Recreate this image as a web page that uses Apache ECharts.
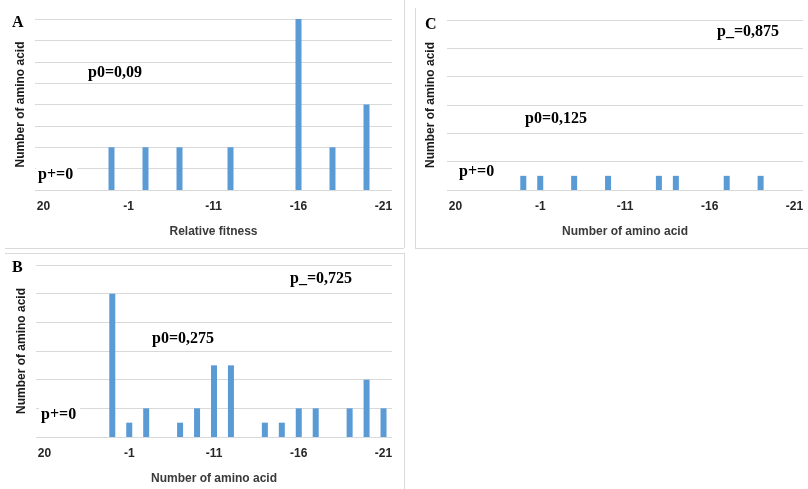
<!DOCTYPE html>
<html>
<head>
<meta charset="utf-8">
<script src="https://cdn.jsdelivr.net/npm/echarts@6/dist/echarts.min.js"></script>
<style>
  html, body { margin: 0; padding: 0; background: #fff; }
  #main { width: 808px; height: 489px; }
</style>
</head>
<body>
<div id="main"></div>
<script>
// categories, only every 5th one gets a label on the chart
var xLabels = ['20','15','10','5','0','-1','-3','-5','-7','-9','-11','-12','-13','-14','-15','-16','-17','-18','-19','-20','-21'];
// counts per category
var countsA = [0,0,0,0,1,0,1,0,1,0,0,1,0,0,0,4,0,1,0,2,0];
var countsB = [0,0,0,0,10,1,2,0,1,2,5,5,0,1,1,2,2,0,2,4,2];
var countsC = [0,0,0,0,1,1,0,1,0,1,0,0,1,1,0,0,1,0,1,0,0];
var xNames = ['Relative fitness', 'Number of amino acid', 'Number of amino acid'];
var yName = 'Number of amino acid';

var grey = '#d9d9d9';
var serif = 'bold 16px "Liberation Serif"';

function xAxis(i) {
    return {
        type: 'category',
        gridIndex: i,
        data: xLabels,
        name: xNames[i],
        nameLocation: 'middle',
        nameGap: 36,
        nameTextStyle: { fontFamily: 'Liberation Sans', fontWeight: 'bold', fontSize: 12, color: '#3a3a3a' },
        axisLine: { show: false },
        axisTick: { show: false },
        axisLabel: { interval: 4, margin: 11, fontFamily: 'Liberation Sans', fontWeight: 'bold', fontSize: 12, color: '#262626' }
    };
}
function yAxis(i, max, step) {
    return {
        type: 'value',
        gridIndex: i,
        min: 0,
        max: max,
        interval: step,
        name: yName,
        nameLocation: 'middle',
        nameGap: i == 2 ? 10 : 8,
        nameTextStyle: { fontFamily: 'Liberation Sans', fontWeight: 'bold', fontSize: 12, color: '#1a1a1a' },
        axisLine: { show: false },
        axisTick: { show: false },
        axisLabel: { show: false },
        splitLine: { lineStyle: { color: grey, width: 1 } }
    };
}
function bars(i, data) {
    return {
        type: 'bar',
        xAxisIndex: i,
        yAxisIndex: i,
        data: data,
        barWidth: 6,
        itemStyle: { color: '#5b9bd5' },
        silent: true
    };
}
function label(text, x, y, bg) {
    var t = { type: 'text', x: x, y: y, z: 100,
        style: { text: text, font: serif, fill: '#000', verticalAlign: 'middle' } };
    if (bg) { t.style.backgroundColor = '#fff'; t.style.padding = [2, 4, 2, 2]; }
    return t;
}
function line(x1, y1, x2, y2) {
    return { type: 'line', z: 1, shape: { x1: x1, y1: y1, x2: x2, y2: y2 },
        style: { stroke: grey, lineWidth: 1 } };
}

var myChart = echarts.init(document.getElementById('main'));
var options = {
    animation: false,
    grid: [
        { left: 35, right: 416, top: 19, bottom: 299 },
        { left: 36, right: 416, top: 265, bottom: 52 },
        { left: 447, right: 5, top: 20, bottom: 299 }
    ],
    xAxis: [xAxis(0), xAxis(1), xAxis(2)],
    yAxis: [yAxis(0, 4, 0.5), yAxis(1, 12, 2), yAxis(2, 12, 2)],
    series: [bars(0, countsA), bars(1, countsB), bars(2, countsC)],
    graphic: [
        // panel frames
        line(404.5, 0, 404.5, 248),
        line(5, 248.5, 404, 248.5),
        line(415.5, 8, 415.5, 248),
        line(415, 248.5, 808, 248.5),
        line(5, 253.5, 404, 253.5),
        line(404.5, 253, 404.5, 489),
        // panel letters and notes
        label('A', 12, 23),
        label('p0=0,09', 88, 73),
        label('p+=0', 36, 175, true),
        label('B', 12, 268),
        label('p_=0,725', 290, 279),
        label('p0=0,275', 152, 339),
        label('p+=0', 39, 415, true),
        label('C', 425, 25),
        label('p_=0,875', 717, 32),
        label('p0=0,125', 525, 119),
        label('p+=0', 457, 172, true)
    ]
};
myChart.setOption(options);
</script>
</body>
</html>
